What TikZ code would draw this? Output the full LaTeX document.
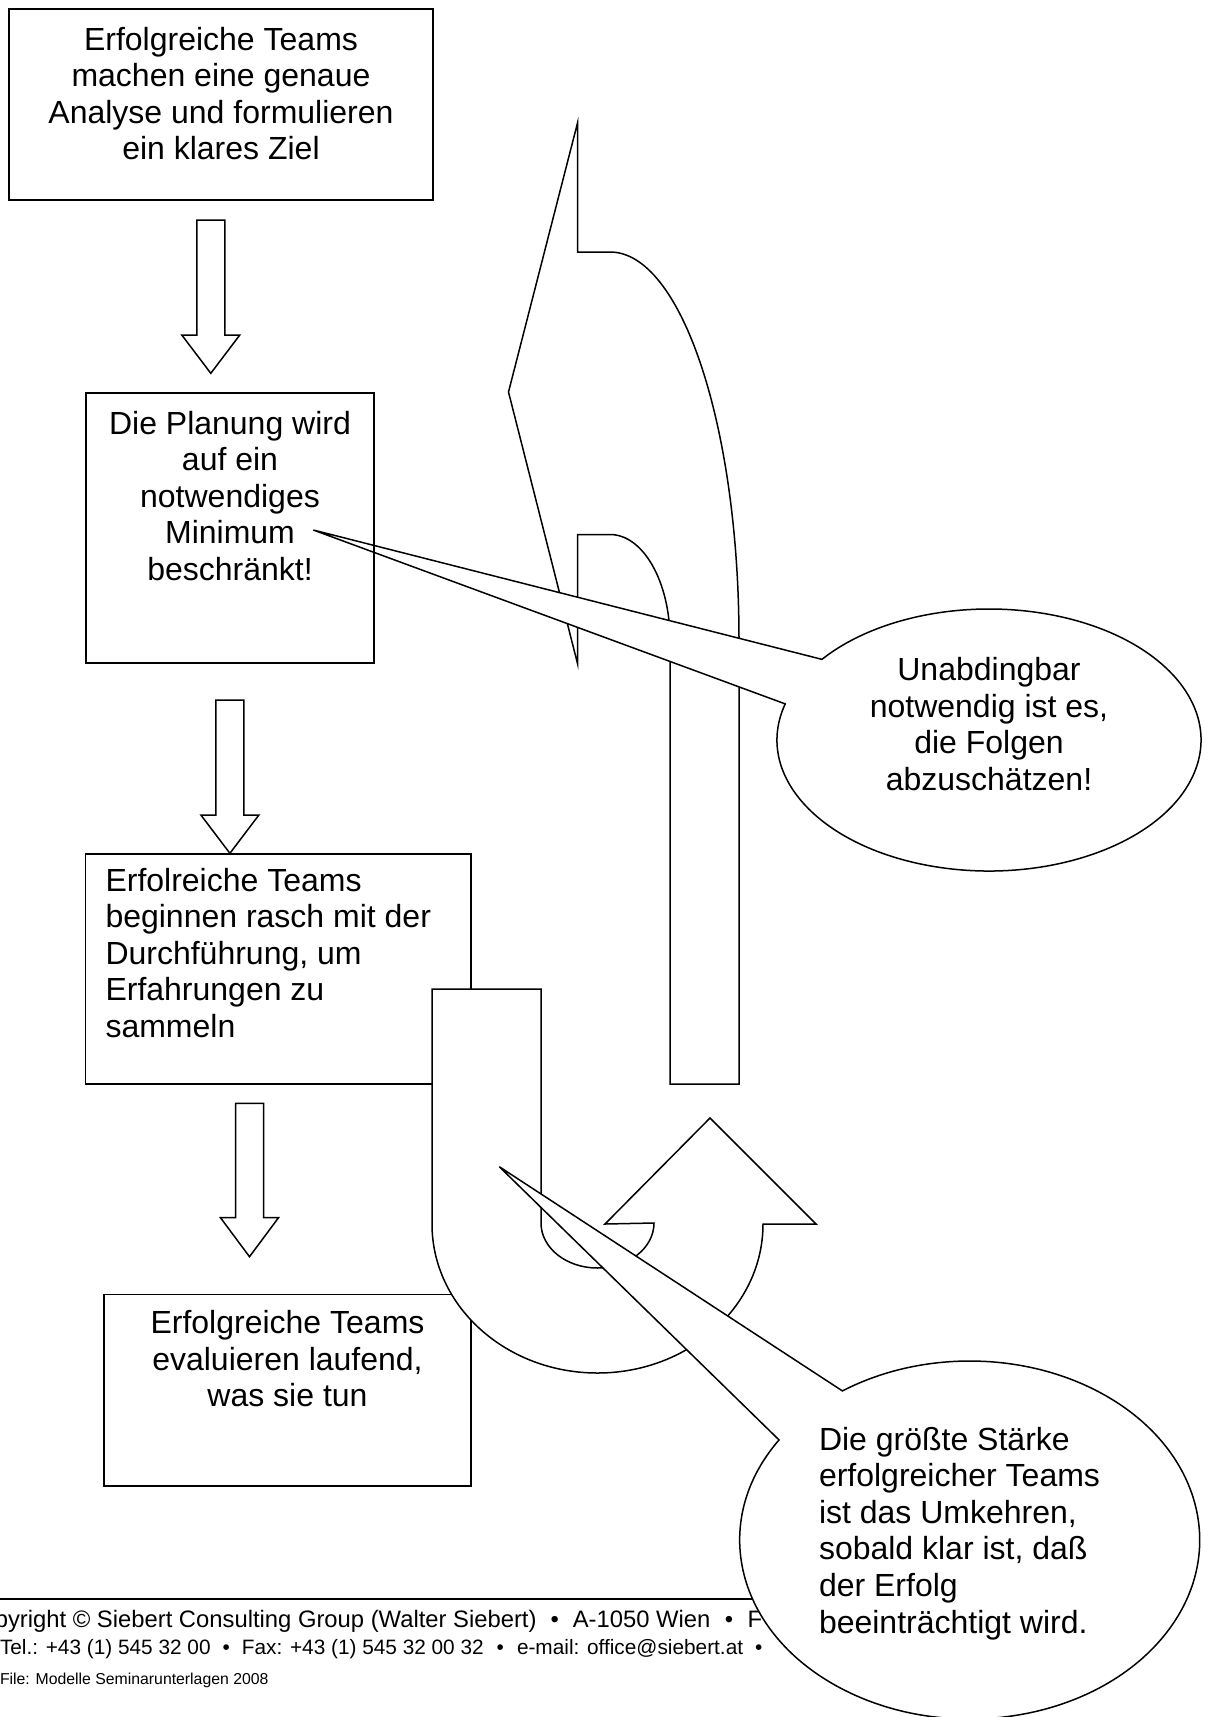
\documentclass[tikz,border=0pt]{standalone}
\usepackage{fontspec}
\setmainfont{Liberation Sans}
\newcommand\blockdownarrow[4]{%
  \draw[shapeline] ({#1-14},#2) -- ({#1+14},#2) -- ({#1+14},#3) -- ({#1+29},#3)
    -- (#1,#4) -- ({#1-29},#3) -- ({#1-14},#3) -- cycle;}
\begin{document}
\begin{tikzpicture}[x=1pt,y=-1pt,
  every node/.style={inner sep=0pt, outer sep=0pt},
  boxline/.style={draw=black, line width=1.7pt},
  shapeline/.style={draw=black, fill=white, line width=1.5pt, line join=miter},
  maintext/.style={font=\fontsize{32}{36.6}\selectfont},
  centertext/.style={maintext, align=center, anchor=base},
  lefttext/.style={maintext, align=left, anchor=base west},
  foot/.style={anchor=base west}]
\useasboundingbox (0,0) rectangle (1208,1717);
\clip (0,0) rectangle (1208,1717);
\fill[white] (0,0) rectangle (1208,1717);

% footer
\draw[line width=2.2pt] (0,1599) -- (1000,1599);
\node[foot, font=\fontsize{23.8}{26}\selectfont] (foot1) at (97,1627)
  {\llap{Copyright © }Siebert Consulting Group (Walter Siebert)\hspace{14pt}•\hspace{14pt}A-1050 Wien\hspace{14.5pt}•\hspace{14.5pt}F};
\node[foot, font=\fontsize{20.8}{24}\selectfont] (foot2) at (0,1654)
  {Tel.: +43 (1) 545 32 00\hspace{12pt}•\hspace{12pt}Fax: +43 (1) 545 32 00 32\hspace{13pt}•\hspace{13pt}e-mail: office@siebert.at\hspace{12pt}•};
\node[foot, font=\fontsize{15.8}{18}\selectfont] (foot3) at (0,1684)
  {File: Modelle Seminarunterlagen 2008};

% boxes 1, 3, 4 (text anchors are on the last line's baseline)
\draw[boxline] (9,9) rectangle (432.7,200.3);
\node[centertext] (t1) at (221,159.8)
  {Erfolgreiche Teams\\machen eine genaue\\Analyse und formulieren\\ein klares Ziel};
\draw[boxline] (85.5,854) rectangle (471,1084);
\node[lefttext] (t3) at (105.5,1037.4)
  {Erfolreiche Teams\\beginnen rasch mit der\\Durchführung, um\\Erfahrungen zu\\sammeln};
\draw[boxline] (104,1294.5) rectangle (471,1486);
\node[centertext] (t4) at (287.5,1406.7)
  {Erfolgreiche Teams\\evaluieren laufend,\\was sie tun};

% down arrows
\blockdownarrow{210.8}{220}{335}{373.3}
\blockdownarrow{229.9}{700}{815}{853.3}
\blockdownarrow{249.5}{1103.3}{1217.7}{1256.7}

% big curved arrow (upper right)
\draw[shapeline] (577.5,123) -- (577.5,252) -- (610,252)
  .. controls (681.2,252) and (739,425.7) .. (739,640) -- (739,1084) -- (670,1084) -- (670,640)
  .. controls (670,581.7) and (643.1,534.5) .. (610,534.5) -- (577.5,534.5) -- (577.5,663.5)
  -- (508.5,392) -- cycle;

% U-turn arrow
\draw[shapeline] (432,989) -- (541,989) -- (541,1223)
  arc[start angle=180, end angle=0, x radius=56.5, y radius=45]
  -- (605,1224) -- (710,1118) -- (816,1224) -- (763,1224)
  arc[start angle=0, end angle=180, x radius=165.5, y radius=149] -- cycle;

% callout 1
\draw[shapeline] ([shift={(989,740)}]218:212 and 131) -- (313.3,530)
  -- ([shift={(989,740)}]196:212 and 131)
  arc[start angle=196, end angle=-142, x radius=212, y radius=131] -- cycle;
\node[centertext] (c1) at (989,790.5)
  {Unabdingbar\\notwendig ist es,\\die Folgen\\abzuschätzen!};

% box 2 (drawn over the callout tail)
\draw[boxline] (86,392.7) rectangle (374.3,662.7);
\node[centertext] (t2) at (230,580.5)
  {Die Planung wird\\auf ein\\notwendiges\\Minimum\\beschränkt!};

% callout 2
\draw[shapeline] ([shift={(969.7,1540)}]236.4:230 and 179) -- (499.3,1166.7)
  -- ([shift={(969.7,1540)}]214:230 and 179)
  arc[start angle=214, end angle=-123.6, x radius=230, y radius=179] -- cycle;
\node[lefttext] (c2) at (819,1633)
  {Die größte Stärke\\erfolgreicher Teams\\ist das Umkehren,\\sobald klar ist, daß\\der Erfolg\\beeinträchtigt wird.};
\end{tikzpicture}
\end{document}
